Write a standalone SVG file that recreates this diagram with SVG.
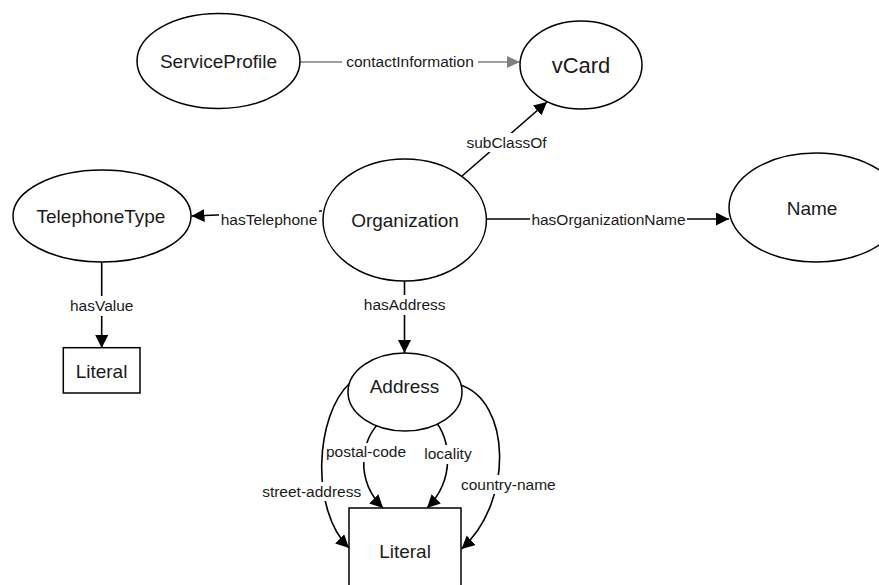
<svg xmlns="http://www.w3.org/2000/svg" width="879" height="585" viewBox="0 0 879 585">
  <style>
    .shape { fill: #ffffff; stroke: #000000; stroke-width: 1.5; }
    .node-text { font-family: "Liberation Sans", Arial, sans-serif; font-size: 19px; fill: #1a1a1a; text-anchor: middle; }
    .edge { fill: none; stroke: #000000; stroke-width: 1.6; marker-end: url(#arrow); }
    .edge-gray { fill: none; stroke: #808080; stroke-width: 1.6; marker-end: url(#arrow-gray); }
    .label-bg { fill: #ffffff; stroke: none; }
    .label { font-family: "Liberation Sans", Arial, sans-serif; font-size: 15.5px; fill: #1a1a1a; text-anchor: middle; }
  </style>
  <defs>
    <marker id="arrow" markerUnits="userSpaceOnUse" markerWidth="14" markerHeight="14" refX="13" refY="6.5" orient="auto">
      <path d="M0,0 L13,6.5 L0,13 z" fill="#000000"/>
    </marker>
    <marker id="arrow-gray" markerUnits="userSpaceOnUse" markerWidth="14" markerHeight="14" refX="13" refY="6" orient="auto">
      <path d="M0,0 L13,6 L0,12 z" fill="#808080"/>
    </marker>
  </defs>

  <rect x="0" y="0" width="879" height="585" fill="#ffffff"/>

  <!-- connectors -->
  <g id="connectors">
    <path class="edge-gray" d="M300,62 L520,62"/>
    <path class="edge" d="M462,176 L547,102"/>
    <path class="edge" d="M322,211 L191.5,216"/>
    <path class="edge" d="M486.5,219 L729,219"/>
    <path class="edge" d="M404.5,281 L404.5,353"/>
    <path class="edge" d="M101.7,262 L101.7,348"/>
    <path class="edge" d="M350,383 C315,415 310,510 349,548"/>
    <path class="edge" d="M382,420 C360,440 355,480 383,508"/>
    <path class="edge" d="M433,418 C452,440 455,480 427,508"/>
    <path class="edge" d="M460,385 C510,400 515,500 461.5,549"/>

    <!-- edge labels -->
    <rect class="label-bg" x="342" y="53" width="136" height="18"/>
    <text class="label" x="410" y="67">contactInformation</text>
    <rect class="label-bg" x="468" y="133" width="77" height="19"/>
    <text class="label" x="506.5" y="148">subClassOf</text>
    <rect class="label-bg" x="219" y="206" width="100" height="22"/>
    <text class="label" x="269" y="225">hasTelephone</text>
    <rect class="label-bg" x="530" y="210" width="157" height="19"/>
    <text class="label" x="608.5" y="225">hasOrganizationName</text>
    <rect class="label-bg" x="366" y="295" width="78" height="20"/>
    <text class="label" x="404.7" y="310">hasAddress</text>
    <rect class="label-bg" x="70" y="296" width="63" height="20"/>
    <text class="label" x="101.7" y="311">hasValue</text>
    <rect class="label-bg" x="326" y="443" width="80" height="19"/>
    <text class="label" x="366" y="457">postal-code</text>
    <rect class="label-bg" x="423" y="445" width="51" height="19"/>
    <text class="label" x="448" y="459">locality</text>
    <rect class="label-bg" x="261" y="482" width="101" height="19"/>
    <text class="label" x="311.7" y="496.5">street-address</text>
    <rect class="label-bg" x="459" y="475" width="99" height="19"/>
    <text class="label" x="508.3" y="489.5">country-name</text>
  </g>

  <!-- nodes -->
  <g id="node-serviceprofile">
    <ellipse class="shape" cx="218.5" cy="61" rx="81.5" ry="47.5"/>
    <text class="node-text" x="218.5" y="68">ServiceProfile</text>
  </g>
  <g id="node-vcard">
    <ellipse class="shape" cx="581" cy="65" rx="61" ry="44"/>
    <text class="node-text" x="581" y="73" style="font-size:22px">vCard</text>
  </g>
  <g id="node-organization">
    <ellipse class="shape" cx="404.7" cy="220" rx="81.7" ry="61"/>
    <text class="node-text" x="405" y="227">Organization</text>
  </g>
  <g id="node-telephonetype">
    <ellipse class="shape" cx="102" cy="216" rx="89" ry="46"/>
    <text class="node-text" x="101" y="223">TelephoneType</text>
  </g>
  <g id="node-name">
    <ellipse class="shape" cx="816" cy="207.5" rx="87" ry="54.5"/>
    <text class="node-text" x="812" y="215">Name</text>
  </g>
  <g id="node-address">
    <ellipse class="shape" cx="405" cy="392" rx="57" ry="39"/>
    <text class="node-text" x="404.5" y="393">Address</text>
  </g>
  <g id="node-literal-telephone">
    <rect class="shape" x="63.3" y="347.7" width="76.7" height="45.3"/>
    <text class="node-text" x="101.5" y="378">Literal</text>
  </g>
  <g id="node-literal-address">
    <rect class="shape" x="349" y="508" width="112" height="88"/>
    <text class="node-text" x="405" y="558">Literal</text>
  </g>
</svg>
